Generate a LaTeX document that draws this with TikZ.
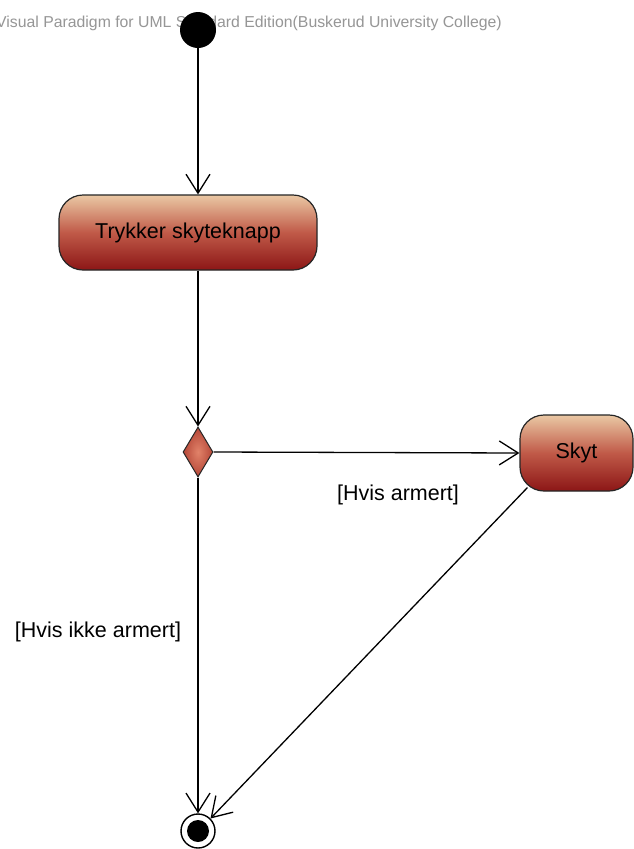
\documentclass[tikz,border=0pt]{standalone}
\usepackage{fontspec}
\setmainfont{Liberation Sans}
\usetikzlibrary{shapes.geometric,arrows.meta}
\definecolor{boxtop}{RGB}{234,200,164}
\definecolor{boxmid}{RGB}{192,90,72}
\definecolor{boxbot}{RGB}{140,22,22}
\definecolor{wm}{RGB}{150,150,150}
\tikzset{
  actbox/.style={draw=black!85,line width=1.2pt,rounded corners=24pt,
    top color=boxtop,bottom color=boxbot,middle color=boxmid,
    inner sep=0pt,font=\fontsize{21.5}{24}\selectfont},
  flow/.style={line width=1.3pt,-{Straight Barb[length=19pt,width=24pt,line width=1.3pt]}},
  lbl/.style={font=\fontsize{21.5}{24}\selectfont,inner sep=0pt},
}
\begin{document}
\begin{tikzpicture}[x=1pt,y=-1pt]
\useasboundingbox (0,0) rectangle (634,849);
\fill[white] (0,0) rectangle (634,849);
\node[anchor=west,text=wm,font=\fontsize{15.8}{18}\selectfont,inner sep=0pt] (wmk) at (-4,23) {Visual Paradigm for UML Standard Edition(Buskerud University College)};
\node[circle,fill=black,minimum size=36pt,inner sep=0pt] (init) at (198,30) {};
\node[actbox,minimum width=258pt,minimum height=75pt] (tr) at (188,232.5) {Trykker skyteknapp};
\node[diamond,draw=black!85,line width=1pt,inner color={rgb,255:red,225;green,130;blue,105},outer color={rgb,255:red,180;green,70;blue,55},minimum width=30pt,minimum height=50pt,inner sep=0pt] (dec) at (198,452) {};
\node[actbox,minimum width=113pt,minimum height=76pt] (sk) at (576.5,453) {Skyt};
\node[circle,draw=black,line width=1.4pt,fill=white,minimum size=34pt,inner sep=0pt] (fin) at (198,831) {};
\node[circle,fill=black,minimum size=22pt,inner sep=0pt] (finin) at (fin) {};
\draw[flow] (init) -- (tr.north -| init);
\draw[flow] (tr.south -| dec) -- (dec.north);
\draw[flow] (dec.east) -- (sk.west);
\draw[flow] (dec.south) -- (fin.north);
\draw[flow] (sk.south west) ++(8,-4) coordinate (skout) (skout) -- (fin.north east);
\node[lbl] (l1) at (398,495) {[Hvis armert]};
\node[lbl] (l2) at (98,632) {[Hvis ikke armert]};
\end{tikzpicture}
\end{document}
